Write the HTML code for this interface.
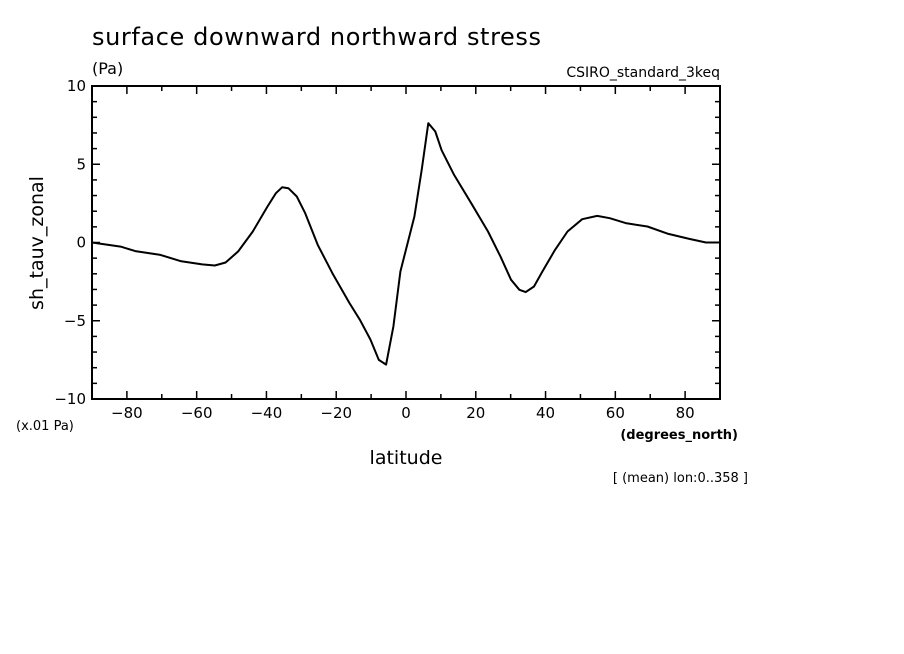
<!DOCTYPE html>
<html><head><meta charset="utf-8"><style>
html,body{margin:0;padding:0;background:#fff;}
svg{display:block;font-family:"DejaVu Sans","Liberation Sans",sans-serif;}
</style></head><body>
<svg id="chart" width="904" height="654" viewBox="0 0 904 654">
<text x="92" y="45" font-size="24" letter-spacing="0.6">surface downward northward stress</text>
<text x="92" y="74" font-size="16">(Pa)</text>
<text x="720" y="77" font-size="14" text-anchor="end">CSIRO_standard_3keq</text>
<text x="16" y="430" font-size="13">(x.01 Pa)</text>
<text x="738" y="439" font-size="13" text-anchor="end" font-weight="bold">(degrees_north)</text>
<text x="406" y="464" font-size="19" text-anchor="middle">latitude</text>
<text x="748" y="482" font-size="13" text-anchor="end">[ (mean) lon:0..358 ]</text>
<text transform="translate(43,243) rotate(-90)" font-size="19" text-anchor="middle">sh_tauv_zonal</text>
<g id="axes"></g>
<rect x="92" y="86" width="628" height="313" fill="none" stroke="#000" stroke-width="2"/>
</svg>
<script>
const lats = [-90,-81.8,-77.6,-70.4,-64.4,-58.4,-54.8,-51.7,-48.1,-43.9,-39.7,-37.3,-35.5,-33.7,-31.3,-28.9,-25.3,-21.1,-16.2,-13.2,-10.2,-7.8,-5.7,-3.6,-1.6,2.4,4.5,6.4,8.4,10.2,13.8,18.7,23.5,27.1,30.1,32.5,34.3,36.7,39.1,42.7,46.3,50.5,54.8,58.4,63.2,69.2,75.2,81.2,86,90];
const values = [0,-0.26,-0.55,-0.79,-1.2,-1.4,-1.47,-1.28,-0.57,0.7,2.3,3.15,3.53,3.47,2.94,1.87,-0.15,-1.96,-3.87,-4.94,-6.2,-7.5,-7.8,-5.36,-1.85,1.66,4.64,7.62,7.09,5.9,4.32,2.51,0.7,-0.9,-2.38,-3.02,-3.17,-2.81,-1.85,-0.47,0.7,1.49,1.7,1.55,1.23,1.02,0.55,0.23,0,0];
const xTicks = [-80,-60,-40,-20,0,20,40,60,80];
const yTicks = [-10,-5,0,5,10];
const X0=92,X1=720,Y0=399,Y1=86;
const xs = v => X0+(v+90)/180*(X1-X0);
const ys = v => Y0-(v+10)/20*(Y0-Y1);
const NS="http://www.w3.org/2000/svg";
const g=document.getElementById('axes');
function mk(t,a){const e=document.createElementNS(NS,t);for(const k in a)e.setAttribute(k,a[k]);g.appendChild(e);return e;}
for(let v=-90;v<=90;v+=10){
  const len=v%20===0?8:5;
  const l1=mk('line',{x1:xs(v),x2:xs(v),y1:Y0,y2:Y0-len,stroke:'#000','stroke-width':1.5});
  
  
  const l2=mk('line',{x1:xs(v),x2:xs(v),y1:Y1,y2:Y1+len,stroke:'#000','stroke-width':1.5});
  
  
}
for(let v=-10;v<=10;v+=1){
  const len=v%5===0?8:5;
  const a=mk('line',{x1:X0,x2:X0+len,y1:ys(v),y2:ys(v),stroke:'#000','stroke-width':1.5});
  
  
  const b=mk('line',{x1:X1,x2:X1-len,y1:ys(v),y2:ys(v),stroke:'#000','stroke-width':1.5});
  
  
}
xTicks.forEach(v=>{
  const t=mk('text',{x:xs(v),y:418,'font-size':15,'text-anchor':'middle'});
  t.textContent=String(v).replace('-','\u2212');
  
  
});
yTicks.forEach(v=>{
  const t=mk('text',{x:86,y:ys(v)+5,'font-size':15,'text-anchor':'end'});
  t.textContent=String(v).replace('-','\u2212');
  
  
});
const pts=lats.map((la,i)=>xs(la).toFixed(1)+','+ys(values[i]).toFixed(1)).join(' ');
const line=mk('polyline',{points:pts,fill:'none',stroke:'#000','stroke-width':2,'stroke-linejoin':'round'});


</script>
</body></html>
